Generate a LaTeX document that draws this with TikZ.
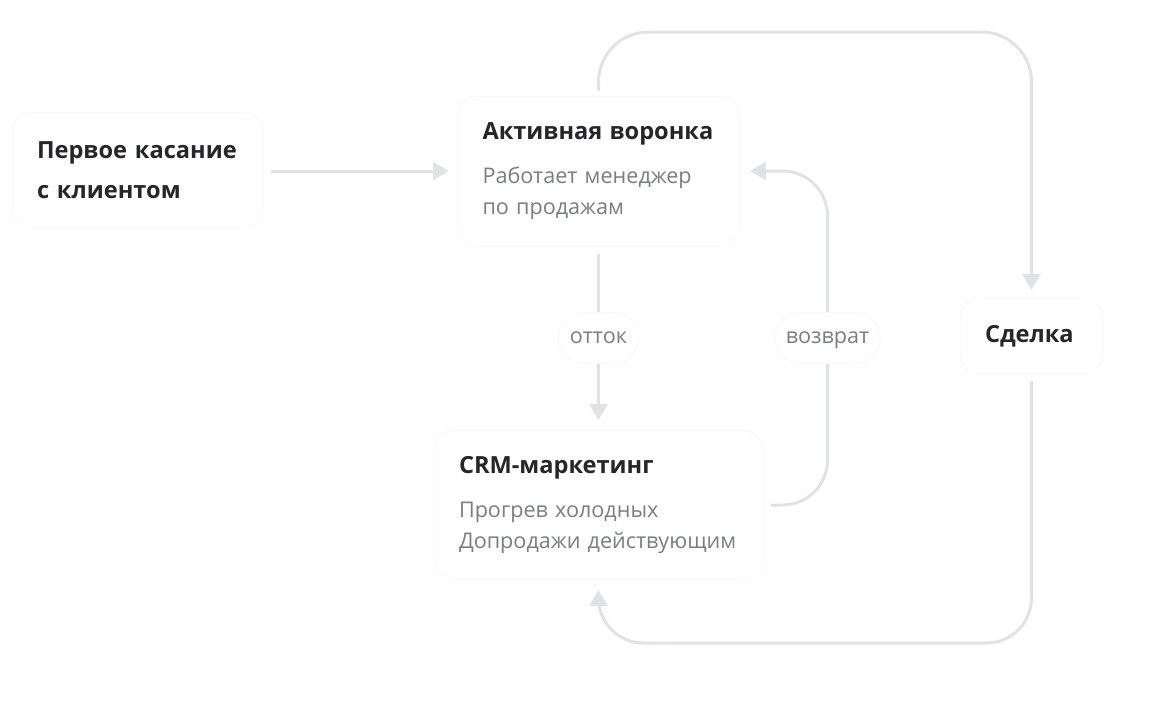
\documentclass[tikz,border=0pt]{standalone}
\usepackage{fontspec}
\setmainfont{Open Sans}
\usetikzlibrary{arrows.meta,positioning}
\definecolor{ink}{HTML}{24262B}
\definecolor{muted}{HTML}{7A7D87}
\definecolor{wire}{HTML}{E0E2E7}
\definecolor{rim}{HTML}{F8F8FA}
\newcommand{\ttl}[1]{{\fontsize{23.6}{40}\selectfont\bfseries\color{ink}#1}}
\newcommand{\subfont}{\fontsize{21.6}{31}\selectfont}
\tikzset{
  card/.style={draw=rim, line width=1pt, fill=white, rounded corners=20pt,
    inner xsep=25pt, inner ysep=0pt, align=left, font=\subfont, text=muted},
  pill/.style={draw=rim, line width=1pt, fill=white, rounded corners=25pt,
    minimum height=51pt, inner xsep=0pt, text height=11.5pt, text depth=0pt,
    font=\subfont, text=muted},
  flow/.style={draw=wire, line width=3pt, rounded corners=45pt},
  tip/.style={-{Triangle[width=18pt,length=16pt]}},
}
\begin{document}
\begin{tikzpicture}[x=1pt,y=-1pt]
\useasboundingbox (0,0) rectangle (1160,724);
% boxes
\node[card, minimum width=251pt, text width=201pt, minimum height=116pt, font=\fontsize{23.6}{40}\selectfont] (touch) at (137.5,170) {\ttl{Первое касание\\с клиентом}};
\node[card, minimum width=282pt, text width=232pt, minimum height=150pt] (funnel) at (598.5,171)
  {\ttl{Активная воронка}\\[13pt]Работает менеджер\\по продажам};
\node[card, minimum width=329pt, text width=279pt, minimum height=149pt] (crm) at (598.5,505)
  {\ttl{CRM-маркетинг}\\[13pt]Прогрев холодных\\Допродажи действующим};
\node[card, minimum width=143pt, text width=93pt, minimum height=75pt] (deal) at (1031.5,336) {\ttl{Сделка}};
% labels on the arrows
\node[pill, minimum width=80pt] (churn) at (598.5,338) {отток};
\node[pill, minimum width=105pt] (back) at (827.5,338) {возврат};
\coordinate (topline) at (0,32);
\coordinate (bottomline) at (0,643);
% arrows
\draw[flow, tip, shorten <=7pt, shorten >=8pt] (touch.east |- 0,171) -- (funnel.west |- 0,171);
\draw[flow, shorten <=7pt] (funnel) -- (churn);
\draw[flow, tip, shorten >=10pt] (churn) -- (crm);
\draw[flow, shorten <=7pt] (crm.east) -| (back);
\draw[flow, tip, shorten >=10pt] (back) |- (funnel.east);
\draw[flow, tip, rounded corners=50pt, shorten <=5pt, shorten >=8pt] (funnel.north) -- (funnel.north |- topline) -| (deal.north);
\draw[flow, tip, shorten <=7pt, shorten >=10pt] (deal.south) -- (deal.south |- bottomline) -| (crm.south);
\end{tikzpicture}
\end{document}
